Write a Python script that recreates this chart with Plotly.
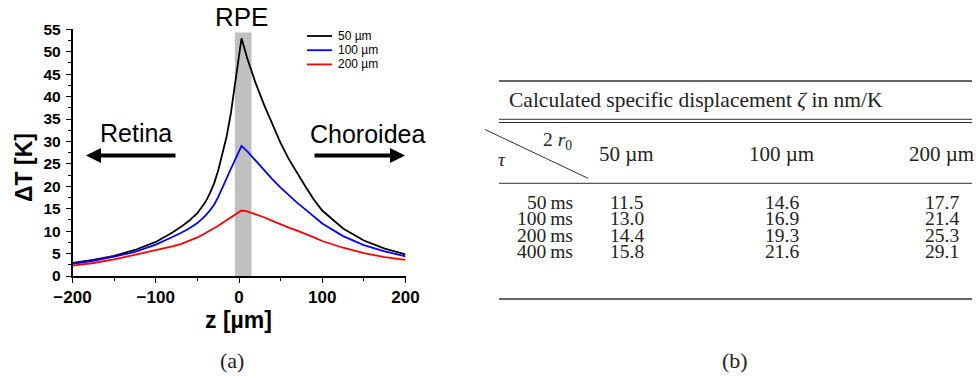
import plotly.graph_objects as go

# ---- panel (a): temperature rise profiles across the RPE ----
z_um = [-200, -175, -150, -125, -100, -90, -80, -70, -60, -50, -40, -35, -30, -25, -20, -15,
        -10, -5, 0, 3, 10, 20, 30, 40, 50, 60, 70, 80, 90, 100, 125, 150, 175, 200]
dT_50 = [2.9, 3.6, 4.5, 5.8, 7.6, 8.6, 9.7, 10.9, 12.3, 14.0, 16.6, 18.4, 20.6, 23.5, 27.0, 31.0,
         36.0, 42.5, 49.5, 53.0, 48.5, 43.0, 38.2, 33.7, 29.6, 26.0, 22.8, 19.9, 17.0, 14.6,
         10.6, 7.9, 6.1, 4.8]
dT_100 = [2.7, 3.4, 4.3, 5.4, 7.0, 7.8, 8.7, 9.6, 10.6, 11.8, 13.5, 14.6, 15.9, 17.6, 19.5, 21.7,
          23.8, 26.0, 27.8, 29.0, 27.8, 25.7, 23.6, 21.6, 19.7, 17.9, 16.3, 14.8, 13.2, 11.7,
          8.9, 6.9, 5.5, 4.4]
dT_200 = [2.3, 2.9, 3.7, 4.7, 5.8, 6.2, 6.6, 7.1, 7.8, 8.6, 9.6, 10.1, 10.6, 11.2, 11.8, 12.4,
          12.9, 13.6, 14.2, 14.6, 14.4, 13.8, 13.1, 12.3, 11.5, 10.8, 10.1, 9.4, 8.6, 7.8,
          6.3, 5.1, 4.2, 3.6]
series_names = ["50 µm", "100 µm", "200 µm"]
series_colors = ["#000000", "#0000ff", "#ff0000"]
rpe_band = (-5, 15, 54.3)

# ---- panel (b): calculated specific displacement table ----
spot_headers = ["50 µm", "100 µm", "200 µm"]
pulse_labels = ["50\u2009ms", "100\u2009ms", "200\u2009ms", "400\u2009ms"]
zeta_50 = [11.5, 13.0, 14.4, 15.8]
zeta_100 = [14.6, 16.9, 19.3, 21.6]
zeta_200 = [17.7, 21.4, 25.3, 29.1]

W, H = 976, 379
SANS = "Liberation Sans, Arial, sans-serif"
SERIF = "Liberation Serif, Times New Roman, serif"


def px(x):
    return x / W


def py(y):
    return 1 - y / H


def label(text, x, y, font, xanchor="center", yanchor="middle", **kw):
    """Text placed in page pixels (origin top-left)."""
    return dict(text=text, x=px(x), y=py(y), xref="paper", yref="paper",
                xanchor=xanchor, yanchor=yanchor, showarrow=False, font=font, **kw)


fig = go.Figure()
for vals, name, col in zip([dT_50, dT_100, dT_200], series_names, series_colors):
    fig.add_trace(go.Scatter(x=z_um, y=vals, mode="lines", name=name,
                             line=dict(color=col, width=1.8), showlegend=False))

# RPE layer band
fig.add_shape(type="rect", xref="x", yref="y", x0=rpe_band[0], x1=rpe_band[1],
              y0=0, y1=rpe_band[2], fillcolor="#c0c0c0", line_width=0, layer="below")

ax_l, ax_r, ax_t, ax_b = 72.5, 405.5, 29.3, 276
fig.update_layout(
    template="none",
    width=W, height=H, margin=dict(l=0, r=0, t=0, b=0, autoexpand=False),
    paper_bgcolor="white", plot_bgcolor="white",
    xaxis=dict(domain=[px(ax_l), px(ax_r)], range=[-200, 200], automargin=False,
               tickvals=[-200, -100, 0, 100, 200], ticks="outside", ticklen=5,
               tickwidth=1.3, tickcolor="black", showline=True, linecolor="black",
               linewidth=1.5, showgrid=False, zeroline=False,
               tickfont=dict(family=SANS, size=17, color="black", weight="bold"),
               minor=dict(dtick=50, tick0=0, ticks="outside", ticklen=3, tickcolor="black",
                          showgrid=False)),
    yaxis=dict(domain=[py(ax_b), py(ax_t)], range=[0, 55], dtick=5, automargin=False,
               ticks="outside", ticklen=5, tickwidth=1.3, tickcolor="black",
               showline=True, linecolor="black", linewidth=1.5, showgrid=False,
               zeroline=False, ticklabelstandoff=2,
               tickfont=dict(family=SANS, size=15.5, color="black", weight="bold"),
               minor=dict(dtick=2.5, ticks="outside", ticklen=3, tickcolor="black",
                          showgrid=False)),
)

ann = []
bold_title = dict(family=SANS, size=23, color="black", weight="bold")
# axis titles
ann.append(label("z [µm]", 238, 320, bold_title))
ann.append(label("ΔT [K]", 24, 168, bold_title, textangle=-90))
# region labels
ann.append(label("RPE", 241, 17, dict(family=SANS, size=26, color="black")))
ann.append(label("Retina", 136, 133, dict(family=SANS, size=25, color="black")))
ann.append(label("Choroidea", 308, 134, dict(family=SANS, size=25, color="black"),
                 xanchor="left"))
# direction arrows
ann.append(dict(text="", x=px(86), y=py(155.5), xref="paper", yref="paper",
                ax=91, ay=0, showarrow=True, arrowhead=2, arrowsize=0.75,
                arrowwidth=4, arrowcolor="black"))
ann.append(dict(text="", x=px(405), y=py(155.5), xref="paper", yref="paper",
                ax=-92, ay=0, showarrow=True, arrowhead=2, arrowsize=0.75,
                arrowwidth=4, arrowcolor="black"))

# legend entries
for i, (name, col) in enumerate(zip(series_names, series_colors)):
    yy = 36 + i * 14.2
    fig.add_shape(type="line", xref="paper", yref="paper", x0=px(307), x1=px(332),
                  y0=py(yy), y1=py(yy), line=dict(color=col, width=1.8))
    ann.append(label(name, 336, yy, dict(family=SANS, size=12, color="black"),
                     xanchor="left"))

# panel captions
cap_font = dict(family=SERIF, size=22, color="#222222")
ann.append(label("(a)", 232, 360, cap_font))
ann.append(label("(b)", 735, 360, cap_font))

# ---- table (b) ----
tl, tr = 499, 972
for yy, w in [(81, 1.4), (119.3, 1.0), (122.5, 1.0), (183.3, 1.0), (299, 1.4)]:
    fig.add_shape(type="line", xref="paper", yref="paper", x0=px(tl), x1=px(tr),
                  y0=py(yy), y1=py(yy), line=dict(color="#333333", width=w))
fig.add_shape(type="line", xref="paper", yref="paper", x0=px(485), x1=px(588),
              y0=py(129.5), y1=py(178.3), line=dict(color="#333333", width=1))

tfont = dict(family=SERIF, size=19.5, color="#222222")
ann.append(label("Calculated specific displacement <i>ζ</i> in nm/K", 507, 100,
                 dict(family=SERIF, size=21.5, color="#222222"), xanchor="left"))
ann.append(label("2 <i>r</i><sub>0</sub>", 574, 141, tfont, xanchor="right"))
ann.append(label("<i>τ</i>", 502, 159, tfont))
col_x = [626.7, 781.7, 941.7]
for cx, h in zip(col_x, spot_headers):
    ann.append(label(h, cx, 154, dict(family=SERIF, size=21, color="#222222")))
row_y = [202, 218.5, 235, 251.5]
for ry, lab, a, b, c in zip(row_y, pulse_labels, zeta_50, zeta_100, zeta_200):
    ann.append(label(lab, 575, ry, tfont, xanchor="right"))
    for cx, v in zip(col_x, [a, b, c]):
        ann.append(label(f"{v:.1f}", cx, ry, tfont))

fig.update_layout(annotations=ann)
fig.write_html("out.html")
